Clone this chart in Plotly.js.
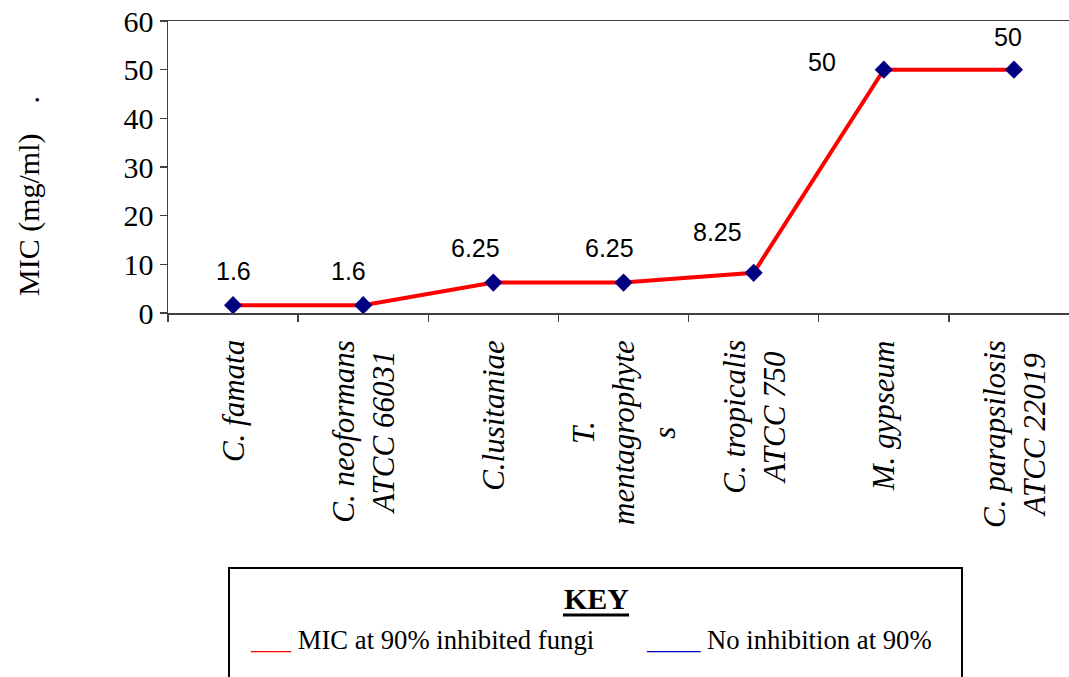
<!DOCTYPE html>
<html>
<head>
<meta charset="utf-8">
<script src="https://cdn.plot.ly/plotly-3.0.1.min.js"></script>
<style>html,body{margin:0;padding:0;background:#fff;}#chart{width:1069px;height:677px;}</style>
</head>
<body>
<div id="chart"></div>
<script>
// ---- data ----
const categories = ['C. famata', 'C. neoformans ATCC 66031', 'C.lusitaniae', 'T. mentagrophytes', 'C. tropicalis ATCC 750', 'M. gypseum', 'C. parapsilosis ATCC 22019'];
const tickLabels = ['C. famata', 'C. neoformans<br>ATCC 66031', 'C.lusitaniae', 'T.<br>mentagrophyte<br>s', 'C. tropicalis<br>ATCC 750', 'M. gypseum', 'C. parapsilosis<br>ATCC 22019'];
const micValues = [1.6, 1.6, 6.25, 6.25, 8.25, 50, 50];
const valueLabels = ['1.6', '1.6', '6.25', '6.25', '8.25', '50', '50'];
const yTicks = [0, 10, 20, 30, 40, 50, 60];
const yTitle = 'MIC (mg/ml)\u00a0\u00a0\u00a0\u00a0.';
const keyTitle = 'KEY';
const keyItems = ['MIC at 90% inhibited fungi', 'No inhibition at 90%'];

// ---- styling (pixel offsets of the hand-placed value labels) ----
const labelShift = [[0, 34], [-15, 34], [-18, 35], [-14, 35], [-36, 41], [-62, 8], [-6, 33]];
const SERIF = 'Liberation Serif, Times New Roman, serif';
const SANS = 'Liberation Sans, Arial, sans-serif';

const W = 1069, H = 677, L = 168, T = 21, PW = 901, PH = 292;
const px = x => (x - L) / PW;          // pixel -> paper x
const py = y => (T + PH - y) / PH;     // pixel -> paper y

const trace = {
  x: categories,
  y: micValues,
  type: 'scatter',
  mode: 'lines+markers',
  line: {color: '#ff0000', width: 4},
  marker: {symbol: 'diamond', size: 14, color: '#000080', line: {width: 0}},
  hoverinfo: 'x+y',
  showlegend: false
};

const annotations = [];
// value labels
valueLabels.forEach((t, i) => {
  annotations.push({
    x: categories[i], y: micValues[i], xref: 'x', yref: 'y',
    text: t, showarrow: false, xanchor: 'center', yanchor: 'middle',
    xshift: labelShift[i][0], yshift: labelShift[i][1],
    font: {family: SANS, size: 25, color: '#000'}
  });
});
// category labels (rotated)
tickLabels.forEach((t, i) => {
  annotations.push({
    x: categories[i], y: 0, xref: 'x', yref: 'paper',
    text: '<i>' + t + '</i>', showarrow: false, textangle: -90,
    xanchor: 'center', yanchor: 'top', align: 'center', yshift: -25,
    font: {family: SERIF, size: 31, color: '#000'}
  });
});
// y title
annotations.push({
  x: px(29), y: py(196), xref: 'paper', yref: 'paper', text: yTitle,
  showarrow: false, textangle: -90, xanchor: 'center', yanchor: 'middle',
  font: {family: SERIF, size: 30, color: '#000'}
});
// key
annotations.push({
  x: px(596), y: py(598), xref: 'paper', yref: 'paper', text: '<b>' + keyTitle + '</b>',
  showarrow: false, xanchor: 'center', yanchor: 'middle',
  font: {family: SERIF, size: 30, color: '#000'}
});
annotations.push({
  x: px(248), y: py(640), xref: 'paper', yref: 'paper',
  text: '<span style="color:#ff0000">___</span> ' + keyItems[0],
  showarrow: false, xanchor: 'left', yanchor: 'middle',
  font: {family: SERIF, size: 26.7, color: '#000'}
});
annotations.push({
  x: px(644), y: py(640), xref: 'paper', yref: 'paper',
  text: '<span style="color:#0000cc">____</span> ' + keyItems[1],
  showarrow: false, xanchor: 'left', yanchor: 'middle',
  font: {family: SERIF, size: 26.7, color: '#000'}
});

const shapes = [
  {type: 'rect', xref: 'paper', yref: 'paper', x0: px(229), x1: px(962), y0: py(568), y1: py(720),
   line: {color: '#000', width: 2}, fillcolor: 'rgba(0,0,0,0)'},
  {type: 'line', xref: 'paper', yref: 'paper', x0: px(563), x1: px(629), y0: py(615), y1: py(615),
   line: {color: '#000', width: 3}}
];

const layout = {
  width: W, height: H,
  margin: {l: L, r: 0, t: T, b: H - T - PH, pad: 0},
  paper_bgcolor: '#fff', plot_bgcolor: '#fff',
  showlegend: false,
  xaxis: {
    type: 'category', range: [-0.5, 6.423], autorange: false,
    showline: true, mirror: true, linecolor: '#404040', linewidth: 1.5,
    ticks: 'outside', tickson: 'boundaries', ticklen: 7, tickcolor: '#404040', tickwidth: 1.5,
    showticklabels: false, showgrid: false, zeroline: false, fixedrange: true
  },
  yaxis: {
    range: [0, 60], autorange: false, tickvals: yTicks, ticktext: yTicks.map(String),
    showline: true, linecolor: '#404040', linewidth: 1.5,
    ticks: 'outside', ticklen: 7, tickcolor: '#404040', tickwidth: 1.5,
    tickfont: {family: SERIF, size: 30, color: '#000'},
    showgrid: false, zeroline: false, fixedrange: true
  },
  annotations: annotations,
  shapes: shapes
};

Plotly.newPlot('chart', [trace], layout, {displayModeBar: false, staticPlot: true});
</script>
</body>
</html>
